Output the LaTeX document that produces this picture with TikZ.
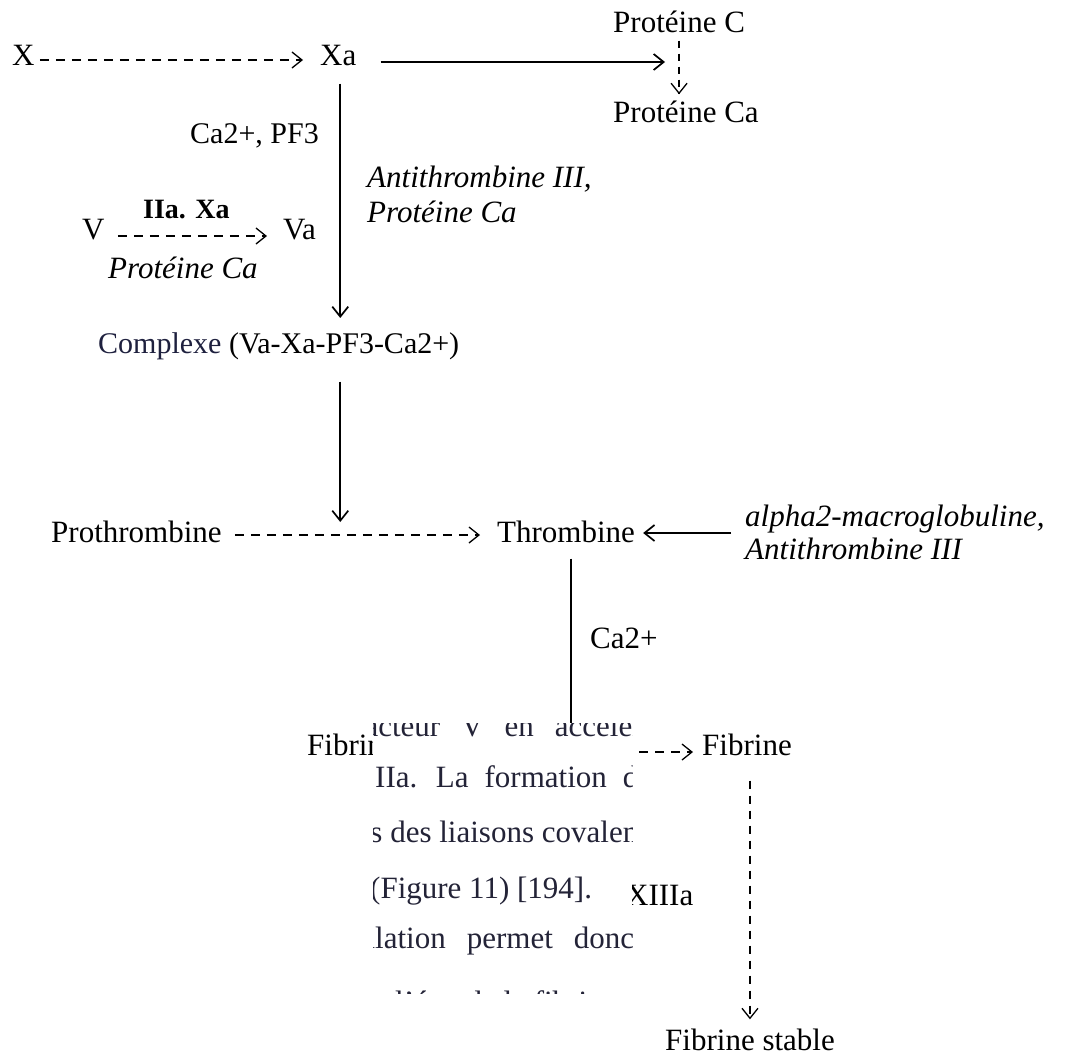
\documentclass[tikz,border=0pt]{standalone}
\usepackage{fontspec}
\setmainfont{Liberation Serif}
\usetikzlibrary{arrows.meta}
\definecolor{navy}{RGB}{30,32,62}
\definecolor{ovtext}{RGB}{35,35,55}
\newcommand\fsr{\fontsize{31pt}{37pt}\selectfont}
\begin{document}
\begin{tikzpicture}[x=1pt,y=-1pt,
  lbl/.style={anchor=base west, inner sep=0pt, font=\fsr},
  itl/.style={anchor=base west, inner sep=0pt, font=\fsr\itshape},
  solidarrow/.style={line width=1.7pt, -{Straight Barb[length=10pt,width=16pt]}},
  dasharrow/.style={line width=1.3pt, dash pattern=on 9pt off 7pt, -{Straight Barb[length=10pt,width=16pt]}},
  ov/.style={anchor=base west, inner sep=0pt, font=\fontsize{31pt}{37pt}\selectfont, text=ovtext}]
\useasboundingbox (0,0) rectangle (1065,1055);
\fill[white] (0,0) rectangle (1065,1055);
% nodes
\node[lbl] (X) at (12,65) {X};
\node[lbl] (Xa) at (320,65) {Xa};
\node[lbl] (PC) at (613,32) {Protéine C};
\node[lbl] (PCa) at (613,122) {Protéine Ca};
\coordinate (xatip) at (665,62);
\node[lbl, font=\fontsize{30pt}{36pt}\selectfont] (CaPF) at (190,143) {Ca2+, PF3};
\node[itl] (AT1) at (367,187) {Antithrombine III,};
\node[itl] (AT2) at (367,222) {Protéine Ca};
\node[lbl, font=\fontsize{28pt}{34pt}\selectfont\bfseries] (IIaXa) at (143,218) {IIa. Xa};
\node[lbl] (V) at (82,239) {V};
\node[lbl] (Va) at (283,239) {Va};
\node[itl] (PCa2) at (108,278) {Protéine Ca};
\node[lbl, font=\fontsize{30pt}{36pt}\selectfont] (Cx) at (98,353) {\textcolor{navy}{Complexe} (Va-Xa-PF3-Ca2+)};
\node[lbl] (Pro) at (51,542) {Prothrombine};
\node[lbl] (Thr) at (497,542) {Thrombine};
\node[itl] (al1) at (745,526) {alpha2-macroglobuline,};
\node[itl] (al2) at (745,559) {Antithrombine III};
\node[lbl] (Ca) at (590,648) {Ca2+};
\node[lbl] (Fgn) at (307,755) {Fibrinogène};
\node[lbl] (Fib) at (702,755) {Fibrine};
\node[lbl] (XIII) at (626,905) {XIIIa};
\node[lbl, anchor=base] (FibS) at (750,1050) {Fibrine stable};
% connectors
\draw[dasharrow] ([shift={(5pt,5pt)}]X.base east) -- ([shift={(-17pt,5pt)}]Xa.base west);
\draw[solidarrow] ([shift={(24pt,3pt)}]Xa.base east) -- (xatip);
\draw[dasharrow, dash pattern=on 7pt off 6pt, shorten <=8pt, shorten >=6pt] (PC.south) -- (PC.south |- PCa.north);
\draw[dasharrow] ([shift={(13pt,3pt)}]V.base east) -- ([shift={(-16pt,3pt)}]Va.base west);
\coordinate (xv) at ([xshift=2pt]Xa.south);
\draw[solidarrow, shorten <=18pt, shorten >=14pt] (xv) -- (xv |- Cx.north);
\path (xv |- Pro.base) coordinate (pb);
\draw[solidarrow, shorten <=22pt, shorten >=13pt] (xv |- Cx.south) -- ([yshift=7pt]pb);
\draw[dasharrow] ([shift={(13pt,7pt)}]Pro.base east) -- ([shift={(-17pt,7pt)}]Thr.base west);
\draw[solidarrow] ([shift={(-14pt,-7pt)}]al1.base west) -- ([shift={(8pt,9pt)}]Thr.base east);
\coordinate (tv) at ([xshift=5pt]Thr.south);
\path (tv |- Fgn.base) coordinate (fb);
\draw[solidarrow, shorten <=16pt, shorten >=12pt] (tv) -- ([yshift=3pt]fb);
\draw[dasharrow] ([shift={(6pt,3pt)}]Fgn.base east) -- ([shift={(-9pt,3pt)}]Fib.base west);
\coordinate (fv) at ([xshift=3pt]Fib.south);
\draw[dasharrow, dash pattern=on 8pt off 7pt, shorten <=25pt, shorten >=9pt] (fv) -- (fv |- FibS.north);
% pasted text fragment overlay
\fill[white] (373,723) rectangle (632,993);
\begin{scope}
\clip (373,723) rectangle (632,993);
\node[ov] (o1) at (354,736) {\spaceskip=21pt\relax facteur V en accélérant};
\node[ov] (o2) at (375,787) {\spaceskip=16pt\relax IIa. La formation de};
\node[ov] (o3) at (298,842) {travers des liaisons covalentes};
\node[ov] (o4) at (370,898) {(Figure 11) [194].};
\node[ov] (o5) at (301,948) {\spaceskip=21pt\relax coagulation permet donc};
\node[ov] (o6) at (395,1012) {l'état de la fibrine};
\end{scope}
\end{tikzpicture}
\end{document}
